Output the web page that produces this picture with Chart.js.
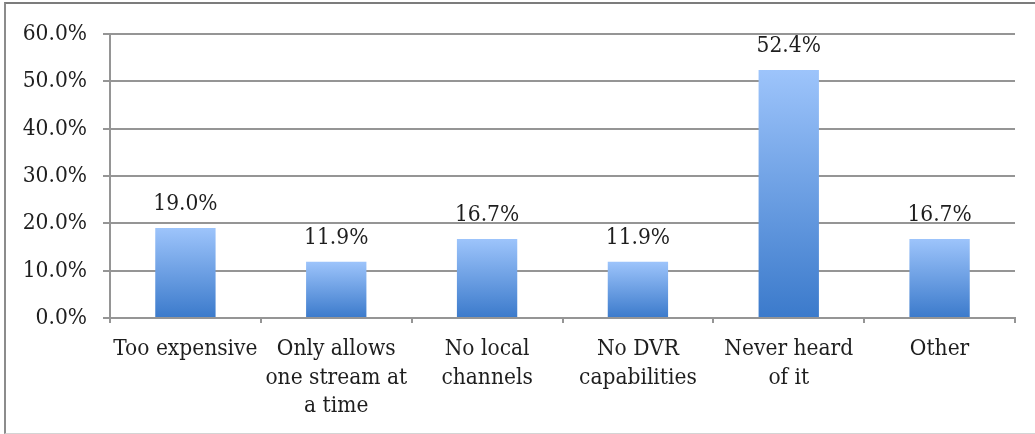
<!DOCTYPE html>
<html>
<head>
<meta charset="utf-8">
<script src="https://cdn.jsdelivr.net/npm/chart.js@4.4.0/dist/chart.umd.min.js"></script>
<style>
  html, body { margin: 0; padding: 0; background: #fff; }
  #wrap { position: relative; width: 1035px; height: 434px; overflow: hidden; }
  #frame {
    position: absolute; left: 4px; top: 2px; width: 1040px; height: 429px;
    border-top: 2px solid #7c7c7c; border-left: 2px solid #8c8c8c; border-bottom: 1px solid #d4d4d4;
  }
  canvas { position: absolute; left: 0; top: 0; }
</style>
</head>
<body>
<div id="wrap">
  <div id="frame"></div>
  <canvas id="reasonsChart" width="1035" height="434"></canvas>
</div>
<script>
const categories = [
  ['Too expensive'],
  ['Only allows', 'one stream at', 'a time'],
  ['No local', 'channels'],
  ['No DVR', 'capabilities'],
  ['Never heard', 'of it'],
  ['Other'],
];
const percentages = [19.0, 11.9, 16.7, 11.9, 52.4, 16.7];
const yTicks = [0, 10, 20, 30, 40, 50, 60];

const FONT_FAMILY = "'DejaVu Serif Condensed', 'DejaVu Serif', serif";
const FONT_SIZE = 22.5;
const GRID_COLOR = '#959595';
const TEXT_COLOR = '#1e1e1e';

function formatPct(v) {
  return v.toFixed(1) + '%';
}

// vertical gradient running from each bar's top down to the baseline
function barGradient(context) {
  const chart = context.chart;
  const y = chart.scales.y;
  if (!chart.chartArea || !y) return '#6a9de3';
  const value = context.parsed ? context.parsed.y : percentages[context.dataIndex];
  const top = y.getPixelForValue(value);
  const bottom = y.getPixelForValue(0);
  const g = chart.ctx.createLinearGradient(0, top, 0, bottom);
  g.addColorStop(0, '#9dc4fb');
  g.addColorStop(1, '#3b7acb');
  return g;
}

const valueLabels = {
  id: 'valueLabels',
  afterDatasetsDraw(chart) {
    const ctx = chart.ctx;
    const meta = chart.getDatasetMeta(0);
    ctx.save();
    ctx.font = `${FONT_SIZE}px ${FONT_FAMILY}`;
    ctx.fillStyle = TEXT_COLOR;
    ctx.textAlign = 'center';
    ctx.textBaseline = 'middle';
    meta.data.forEach((bar, i) => {
      ctx.fillText(formatPct(percentages[i]), bar.x, bar.y - 24);
    });
    ctx.restore();
  },
};

new Chart(document.getElementById('reasonsChart'), {
  type: 'bar',
  data: {
    labels: categories,
    datasets: [{
      data: percentages,
      backgroundColor: barGradient,
      borderWidth: 0,
      categoryPercentage: 1,
      barPercentage: 0.4,
    }],
  },
  options: {
    responsive: false,
    animation: false,
    events: [],
    layout: { padding: { left: 0, right: 20, top: 34, bottom: 0 } },
    plugins: {
      legend: { display: false },
      tooltip: { enabled: false },
    },
    scales: {
      x: {
        afterFit: (scale) => { scale.height = 116; },
        grid: {
          offset: true,
          drawOnChartArea: false,
          drawTicks: true,
          tickLength: 5,
          color: GRID_COLOR,
          lineWidth: 2,
        },
        border: { display: true, color: GRID_COLOR, width: 2 },
        ticks: {
          color: TEXT_COLOR,
          padding: 12,
          maxRotation: 0,
          autoSkip: false,
          font: { family: FONT_FAMILY, size: FONT_SIZE, lineHeight: 1.27 },
        },
      },
      y: {
        min: 0,
        max: 60,
        afterFit: (scale) => { scale.width = 110; },
        afterBuildTicks: (scale) => { scale.ticks = yTicks.map(v => ({ value: v })); },
        grid: {
          color: GRID_COLOR,
          lineWidth: 2,
          drawTicks: true,
          tickLength: 7,
        },
        border: { display: true, color: GRID_COLOR, width: 2 },
        ticks: {
          color: TEXT_COLOR,
          padding: 16,
          callback: (v) => formatPct(v),
          font: { family: FONT_FAMILY, size: FONT_SIZE },
        },
      },
    },
  },
  plugins: [valueLabels],
});
</script>
</body>
</html>
